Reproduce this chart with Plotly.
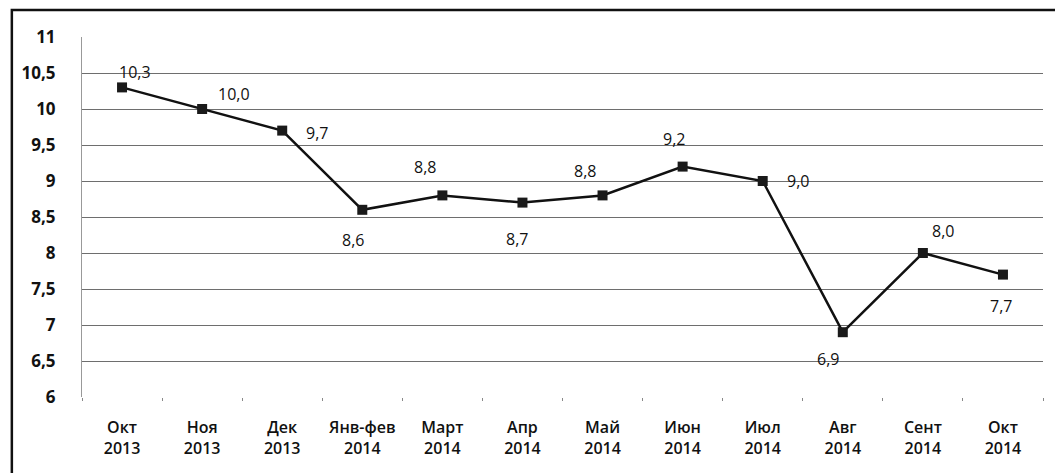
import plotly.graph_objects as go

months = ["Окт", "Ноя", "Дек", "Янв-фев", "Март", "Апр", "Май", "Июн", "Июл", "Авг", "Сент", "Окт"]
years = ["2013", "2013", "2013", "2014", "2014", "2014", "2014", "2014", "2014", "2014", "2014", "2014"]
values = [10.3, 10.0, 9.7, 8.6, 8.8, 8.7, 8.8, 9.2, 9.0, 6.9, 8.0, 7.7]
y_ticks = [6, 6.5, 7, 7.5, 8, 8.5, 9, 9.5, 10, 10.5, 11]

categories = [f"{m}<br>{y}" for m, y in zip(months, years)]
label_text = [f"{v:.1f}".replace(".", ",") for v in values]
# pixel offsets for data labels (style only)
label_dx = [13, 32, 35, -9, -17, -5, -18, -9, 35, -15, 20, -2]
label_dy = [15, 15, -2, -30, 28, -36, 24, 28, 0, -27, 22, -31]

FONT = "Open Sans"

fig = go.Figure()
fig.add_trace(go.Scatter(
    x=categories, y=values, mode="lines+markers",
    line=dict(color="#111111", width=2.5),
    marker=dict(symbol="square", size=10, color="#1a1a1a"),
    hoverinfo="skip", showlegend=False,
))

for c, v, t, dx, dy in zip(categories, values, label_text, label_dx, label_dy):
    fig.add_annotation(x=c, y=v, text=t, showarrow=False, xshift=dx, yshift=dy,
                       font=dict(family=FONT, size=16, color="#111111"))

# outer frame
fig.add_shape(type="rect", xref="paper", yref="paper",
              x0=-0.073, x1=1.05, y0=-0.3, y1=1.075,
              line=dict(color="#111111", width=2.5), layer="below")

fig.update_layout(
    width=1055, height=465,
    margin=dict(l=74, r=20, t=29, b=76),
    paper_bgcolor="white", plot_bgcolor="white",
    separators=", ",
    font=dict(family=FONT, color="#111111"),
    xaxis=dict(
        range=[-0.5, len(categories) - 0.5],
        showgrid=False, showline=False, zeroline=False,
        ticks="outside", ticklen=3, tickcolor="#888888", tickson="boundaries",
        tickfont=dict(family=FONT, size=16, color="#111111", weight=600),
        ticklabelstandoff=19, tickangle=0, automargin=False,
    ),
    yaxis=dict(
        range=[6, 11], tickvals=y_ticks,
        showgrid=True, gridcolor="#6e6e6e", gridwidth=1,
        showline=True, linecolor="#999999", linewidth=1,
        zeroline=False, ticks="", automargin=False,
        tickfont=dict(family=FONT, size=17, color="#111111", weight="bold"),
        ticklabelstandoff=22,
    ),
)

fig.write_html("out.html")
